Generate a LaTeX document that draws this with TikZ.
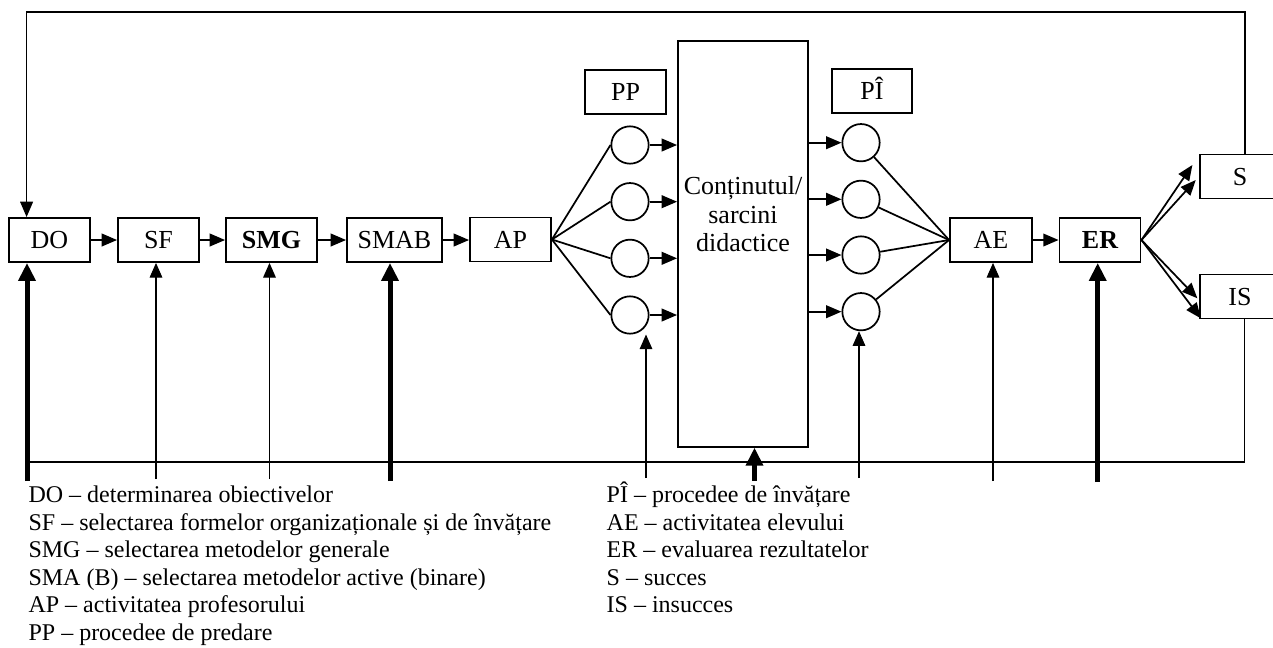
\documentclass[tikz,border=0pt]{standalone}
\usepackage{fontspec}
\setmainfont{Liberation Serif}
\usetikzlibrary{arrows.meta,calc}
\tikzset{
 box/.style={draw,line width=1.4pt,inner sep=0pt,minimum height=33pt,font=\fontsize{19.5}{21.4}\selectfont,text height=12.9pt,text depth=0pt},
 circ/.style={draw,circle,line width=1.3pt,minimum size=28pt,inner sep=0pt},
 conn/.style={line width=1.3pt},
 tip/.style={-{Triangle[length=11.5pt,width=9.5pt]}},
 thinin/.style={line width=0.8pt,-{Triangle[length=11pt,width=9.5pt]}},
 thickin/.style={line width=3.75pt,-{Triangle[length=13.5pt,width=12.5pt]}},
 legend/.style={anchor=base west,inner sep=0pt,font=\fontsize{18}{21}\selectfont},
}
\begin{document}
\begin{tikzpicture}[x=0.75pt,y=-0.75pt]
\useasboundingbox (0,0) rectangle (1273,647);
\clip (0,0) rectangle (1273,647);
% boxes
\node[box,minimum width=60.75pt] (DO) at (49.5,240) {DO};
\node[box,minimum width=60.75pt] (SF) at (158.5,240) {SF};
\node[box,minimum width=68.25pt] (SMG) at (271.5,240) {\bfseries SMG};
\node[box,minimum width=71.25pt] (SMAB) at (394.5,240) {SMAB};
\node[box,minimum width=60.75pt] (AP) at (510.5,239.5) {AP};
\node[box,minimum width=60.75pt] (PP) at (625.5,92) {PP};
\node[box,minimum width=60pt] (PI) at (872,91) {PÎ};
\node[box,minimum width=61.5pt] (AE) at (991,240) {AE};
\node[box,minimum width=60.75pt] (ER) at (1100,240) {\bfseries ER};
\node[box,minimum width=60pt] (S) at (1240,176.5) {S};
\node[box,minimum width=60pt] (IS) at (1240,296.5) {IS};
\node[draw,line width=1.4pt,inner sep=0pt,minimum width=97.5pt,minimum height=304.5pt] (C) at (743,243.7) {};
\node[inner sep=0pt,align=center,font=\fontsize{19.5}{21.4}\selectfont] (Ct) at (743,214.5) {Conținutul/\\sarcini\\didactice};
% circles
\node[circ] (p1) at (630,145) {};
\node[circ] (p2) at (630,201.7) {};
\node[circ] (p3) at (630,258.3) {};
\node[circ] (p4) at (630,315) {};
\node[circ] (q1) at (861,142.7) {};
\node[circ] (q2) at (861,199.3) {};
\node[circ] (q3) at (861,255) {};
\node[circ] (q4) at (861,311.7) {};
% chain
\draw[conn,tip] (DO) -- (SF);
\draw[conn,tip] (SF) -- (SMG);
\draw[conn,tip] (SMG) -- (SMAB);
\draw[conn,tip] (SMAB.east) -- (AP.west |- SMAB.east);
\draw[conn,tip] (AE) -- (ER);
\foreach \i in {1,2,3,4}{
  \draw[conn] (AP.east) -- (p\i.west);
  \draw[conn,tip] (p\i.east) -- (p\i.east -| C.west);
  \draw[conn,tip] (q\i.west -| C.east) -- (q\i.west);
  \draw[conn] (q\i) -- (AE.west);
}
% ER to S / IS
\draw[conn,tip] (ER.east) -- ($(S.west)+(-6.7,-11.5)$);
\draw[conn,tip] (ER.east) -- ($(S.west)+(-3.3,3.5)$);
\draw[conn,tip] (ER.east) -- ($(IS.west)+(-1.7,1.8)$);
\draw[conn,tip] (ER.east) -- ($(IS.west)+(1.7,21.8)$);
% feedback loops
\coordinate (tr) at (1244.7,12);
\coordinate (tl) at (26.6,12);
\draw[conn,tip] (S.north -| tr) -- (tr) -- (tl) -- (tl |- DO.north);
\coordinate (br) at (1244.5,462);
\coordinate (bl) at (25,462);
\draw[conn] (IS.south -| br) -- (br) -- (bl);
% inputs from below
\coordinate (iDO) at (27,481);
\coordinate (iSF) at (156,479);
\coordinate (iSMG) at (269.5,479);
\coordinate (iSMAB) at (390,481);
\coordinate (iPP) at (646,478);
\coordinate (iC) at (754.5,481);
\coordinate (iPI) at (859,478);
\coordinate (iAE) at (993,481);
\coordinate (iER) at (1097.7,482);
\draw[thickin] (iDO) -- (iDO |- DO.south);
\draw[thinin] (iSF) -- (iSF |- SF.south);
\draw[thinin] (iSMG) -- (iSMG |- SMG.south);
\draw[thickin] (iSMAB) -- (iSMAB |- SMAB.south);
\draw[thinin] (iPP) -- (iPP |- p4.south);
\draw[thickin] (iC) -- (iC |- C.south);
\draw[thinin] (iPI) -- (iPI |- q4.south);
\draw[thinin] (iAE) -- (iAE |- AE.south);
\draw[thickin] (iER) -- (iER |- ER.south);
% legend
\node[legend] (l1) at (28.3,502.3) {DO – determinarea obiectivelor};
\node[legend] (l2) at (28.3,530) {SF – selectarea formelor organizaționale și de învățare};
\node[legend] (l3) at (28.3,557.3) {SMG – selectarea metodelor generale};
\node[legend] (l4) at (28.3,585) {SMA (B) – selectarea metodelor active (binare)};
\node[legend] (l5) at (28.3,612.7) {AP – activitatea profesorului};
\node[legend] (l6) at (28.3,640.7) {PP – procedee de predare};
\node[legend] (r1) at (606.4,502.3) {PÎ – procedee de învățare};
\node[legend] (r2) at (606.4,530) {AE – activitatea elevului};
\node[legend] (r3) at (606.4,557.3) {ER – evaluarea rezultatelor};
\node[legend] (r4) at (606.4,585) {S – succes};
\node[legend] (r5) at (606.4,612.7) {IS – insucces};
\end{tikzpicture}
\end{document}
